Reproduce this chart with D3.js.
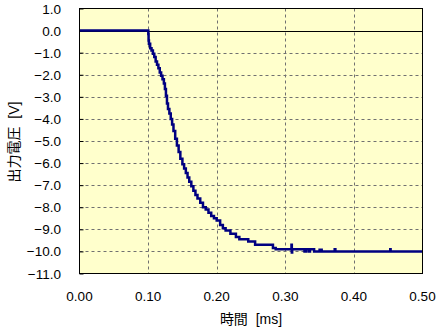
<!DOCTYPE html>
<html>
<head>
<meta charset="utf-8">
<script src="https://cdn.jsdelivr.net/npm/d3@7"></script>
<style>
  body { margin: 0; background: #fff; }
  text { font-family: "Liberation Sans", "Noto Sans CJK JP", sans-serif; }
</style>
</head>
<body>
<svg width="438" height="330"></svg>
<script>
// 時間 [ms]
var timeMs = [0.000, 0.1000, 0.1003, 0.1007, 0.1012, 0.1030, 0.1050, 0.1070, 0.1090, 0.1110,
  0.1130, 0.1150, 0.1170, 0.1190, 0.1210, 0.1230, 0.1245, 0.1260, 0.1275, 0.1290,
  0.1310, 0.1330, 0.1350, 0.1370, 0.1395, 0.1420, 0.1445, 0.1470, 0.1500, 0.1525,
  0.1550, 0.1575, 0.1600, 0.1630, 0.1660, 0.1690, 0.1720, 0.1760, 0.1800, 0.1840,
  0.1880, 0.1920, 0.1960, 0.2000, 0.2050, 0.2090, 0.2130, 0.2200, 0.2280, 0.2330,
  0.2460, 0.2560, 0.2820, 0.2860, 0.3090, 0.3095, 0.3100, 0.3280, 0.3300, 0.3340,
  0.3360, 0.3420, 0.3500, 0.3530, 0.3720, 0.3730, 0.4530, 0.4535, 0.5000];
// 出力電圧 [V]
var outputV = [0, 0, -0.15, -0.45, -0.6, -0.8, -0.9, -1.05, -1.2, -1.4,
  -1.55, -1.7, -1.9, -2.05, -2.2, -2.4, -2.65, -2.95, -3.3, -3.55,
  -3.75, -4.0, -4.25, -4.55, -4.9, -5.2, -5.5, -5.8, -6.05, -6.25,
  -6.45, -6.65, -6.85, -7.05, -7.25, -7.45, -7.6, -7.8, -8.0, -8.1,
  -8.25, -8.4, -8.5, -8.6, -8.8, -8.95, -9.05, -9.2, -9.35, -9.45,
  -9.55, -9.7, -9.85, -9.9, -9.7, -10.05, -9.9, -10.0, -9.9, -10.0,
  -9.9, -10.0, -9.92, -10.0, -9.9, -10.0, -9.9, -10.0, -10.0];

var xTicks = [0, 0.1, 0.2, 0.3, 0.4, 0.5];
var yTicks = [1, 0, -1, -2, -3, -4, -5, -6, -7, -8, -9, -10, -11];

var svg = d3.select("svg");
var pL = 79.5, pR = 422.5, pT = 8.5, pB = 273.5;

var x = d3.scaleLinear().domain([0, 0.5]).range([pL, pR]);
var y = d3.scaleLinear().domain([1, -11]).range([pT, pB]);

var fmtY = function (d) { return d3.format(".1f")(d).replace("-", "\u2212"); };

svg.append("rect")
  .attr("x", pL).attr("y", pT)
  .attr("width", pR - pL).attr("height", pB - pT)
  .attr("fill", "#ffffcc");

// grid
svg.append("g").selectAll("line")
  .data(yTicks.filter(function (d) { return d !== 0 && d !== 1 && d !== -11; }))
  .enter().append("line")
  .attr("x1", pL).attr("x2", pR)
  .attr("y1", function (d) { return Math.round(y(d)) + 0.5; })
  .attr("y2", function (d) { return Math.round(y(d)) + 0.5; })
  .attr("stroke", "#707070").attr("stroke-dasharray", "3,3");

svg.append("g").selectAll("line")
  .data(xTicks.slice(1, -1))
  .enter().append("line")
  .attr("y1", pT).attr("y2", pB)
  .attr("x1", function (d) { return Math.round(x(d)) + 0.5; })
  .attr("x2", function (d) { return Math.round(x(d)) + 0.5; })
  .attr("stroke", "#707070").attr("stroke-dasharray", "3,3");

// zero line
svg.append("line")
  .attr("x1", pL).attr("x2", pR)
  .attr("y1", Math.round(y(0)) + 0.5).attr("y2", Math.round(y(0)) + 0.5)
  .attr("stroke", "#000");

// y axis ticks (inside) and labels
var yAxis = d3.axisRight(y).tickValues(yTicks).tickSize(4).tickFormat("");
svg.append("g").attr("transform", "translate(" + pL + ",0)").call(yAxis)
  .call(function (g) { g.select(".domain").remove(); });

svg.append("g").selectAll("text")
  .data(yTicks).enter().append("text")
  .attr("x", 61).attr("y", function (d) { return y(d) + 5; })
  .attr("text-anchor", "end").attr("font-size", 13.5)
  .text(fmtY);

svg.append("g").selectAll("text")
  .data(xTicks).enter().append("text")
  .attr("x", function (d) { return x(d); }).attr("y", 301)
  .attr("text-anchor", "middle").attr("font-size", 13.5)
  .text(d3.format(".2f"));

// data
var line = d3.line()
  .x(function (d, i) { return x(timeMs[i]); })
  .y(function (d) { return y(d); })
  .curve(d3.curveStepAfter);

svg.append("path")
  .datum(outputV)
  .attr("d", line)
  .attr("fill", "none")
  .attr("stroke", "#000080")
  .attr("stroke-width", 2.5);

// frame
svg.append("rect")
  .attr("x", pL).attr("y", pT)
  .attr("width", pR - pL).attr("height", pB - pT)
  .attr("fill", "none").attr("stroke", "#000");

svg.append("text")
  .attr("x", 251).attr("y", 324)
  .attr("text-anchor", "middle").attr("font-size", 14)
  .text("時間\u00a0\u00a0[ms]");

svg.append("text")
  .attr("transform", "translate(19,142) rotate(-90)")
  .attr("text-anchor", "middle").attr("font-size", 14)
  .text("出力電圧\u00a0\u00a0[V]");
</script>
</body>
</html>
